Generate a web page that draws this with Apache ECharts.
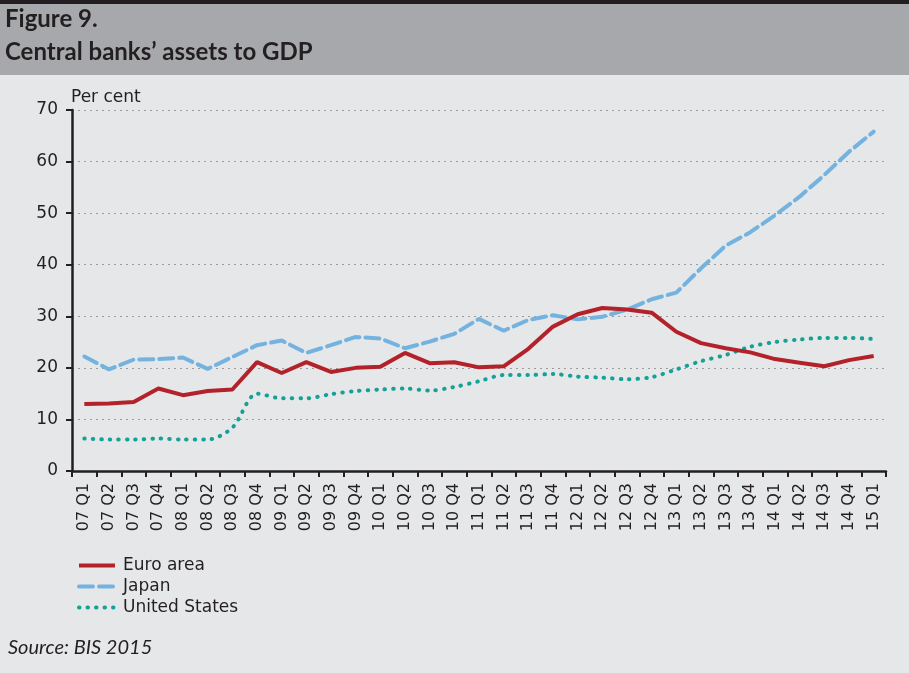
<!DOCTYPE html>
<html><head><meta charset="utf-8">
<script src="https://cdn.jsdelivr.net/npm/echarts@6.0.0/dist/echarts.min.js"></script>
<style>html,body{margin:0;padding:0;background:#e6e7e8;}#c{width:909px;height:673px;}</style>
</head><body><div id="c"></div>
<script>
var categories = ["07 Q1","07 Q2","07 Q3","07 Q4","08 Q1","08 Q2","08 Q3","08 Q4","09 Q1","09 Q2","09 Q3","09 Q4","10 Q1","10 Q2","10 Q3","10 Q4","11 Q1","11 Q2","11 Q3","11 Q4","12 Q1","12 Q2","12 Q3","12 Q4","13 Q1","13 Q2","13 Q3","13 Q4","14 Q1","14 Q2","14 Q3","14 Q4","15 Q1"];
var euroArea = [13.0,13.1,13.4,16.0,14.7,15.5,15.8,21.1,19.0,21.1,19.2,20.0,20.2,22.9,20.9,21.1,20.1,20.3,23.7,28.0,30.4,31.6,31.3,30.7,27.0,24.8,23.8,23.0,21.7,21.0,20.3,21.5,22.3];
var japan = [22.2,19.7,21.6,21.7,22.0,19.8,22.1,24.4,25.3,22.9,24.4,26.0,25.7,23.8,25.1,26.6,29.5,27.2,29.3,30.2,29.4,29.9,31.3,33.3,34.6,39.3,43.7,46.3,49.6,53.2,57.4,61.9,65.8];
var unitedStates = [6.3,6.1,6.1,6.3,6.1,6.1,8.4,15.0,14.1,14.1,14.9,15.5,15.8,16.0,15.6,16.3,17.4,18.6,18.6,18.8,18.3,18.1,17.8,18.2,19.7,21.3,22.5,24.1,25.0,25.5,25.8,25.8,25.6];
var seriesNames = ["Euro area","Japan","United States"];
var yTicks = {min:0, max:70, interval:10};

var chart = echarts.init(document.getElementById('c'), null, {renderer:'canvas'});
var axisColor = '#231f20';
var font = 'DejaVu Sans';
var option = {
  backgroundColor:'#e6e7e8',
  animation:false,
  textStyle:{fontFamily:font},
  graphic:[
    {type:'rect', shape:{x:0,y:0,width:909,height:4}, style:{fill:'#231f20'}},
    {type:'rect', shape:{x:0,y:4,width:909,height:71}, style:{fill:'#a7a8ab'}},
    {type:'text', left:5, top:7, style:{text:'Figure 9.', font:'bold 24px Lato', fill:'#231f20'}},
    {type:'text', left:5, top:40, style:{text:'Central banks\u2019 assets to GDP', font:'bold 24px Lato', fill:'#231f20'}},
    {type:'text', left:8, top:638, style:{text:'Source: BIS 2015', font:'italic 20px Lato', fill:'#231f20'}}
  ],
  grid:{left:72, right:23, top:110, bottom:202},
  legend:{
    orient:'vertical', left:72, top:550, itemWidth:36, itemHeight:14, itemGap:0,
    itemStyle:{opacity:0},
    lineStyle:{width:4},
    textStyle:{fontFamily:font, fontSize:17, lineHeight:21, color:'#231f20', padding:[0,0,0,3]},
    data:seriesNames
  },
  xAxis:{
    type:'category', data:categories, boundaryGap:true,
    axisLine:{lineStyle:{color:axisColor, width:2.5}},
    axisTick:{show:true, inside:false, length:6, alignWithLabel:false, lineStyle:{color:axisColor, width:2}},
    axisLabel:{rotate:90, interval:0, margin:12, fontSize:16, color:'#231f20', fontFamily:font},
    splitLine:{show:false}
  },
  yAxis:{
    type:'value', min:yTicks.min, max:yTicks.max, interval:yTicks.interval,
    name:'Per cent', nameLocation:'end', nameGap:4,
    nameTextStyle:{align:'left', fontSize:17, color:'#231f20', fontFamily:font, padding:[0,0,0,-1]},
    axisLine:{show:true, lineStyle:{color:axisColor, width:2.5}},
    axisTick:{show:true, length:6, lineStyle:{color:axisColor, width:2}},
    axisLabel:{margin:14, fontSize:17, color:'#231f20', fontFamily:font},
    splitLine:{show:true, lineStyle:{color:'#9b9b9b', width:1.2, type:[2,4]}}
  },
  series:[
    {name:seriesNames[0], type:'line', data:euroArea, symbol:'none', z:3,
     lineStyle:{color:'#b3222a', width:4}, itemStyle:{color:'#b3222a'}},
    {name:seriesNames[1], type:'line', data:japan, symbol:'none', z:2,
     lineStyle:{color:'#74b3e0', width:4, type:[14,6], cap:'round'}, itemStyle:{color:'#74b3e0'}},
    {name:seriesNames[2], type:'line', data:unitedStates, symbol:'none', smooth:0.3, z:1,
     lineStyle:{color:'#14a197', width:4, type:[0.5,8], cap:'round'}, itemStyle:{color:'#14a197'}}
  ]
};
chart.setOption(option);
</script></body></html>
